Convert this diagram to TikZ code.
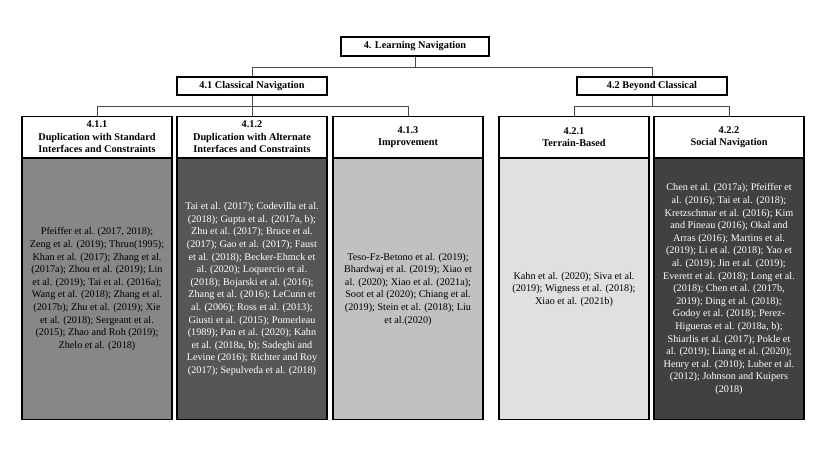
\documentclass[tikz,border=0pt]{standalone}
\usepackage{fontspec}
\setmainfont{Liberation Serif}
\usepackage{tikz}
\usetikzlibrary{calc,positioning}

\definecolor{bodymid}{HTML}{878787}
\definecolor{bodydark}{HTML}{565656}
\definecolor{bodylight}{HTML}{C1C1C1}
\definecolor{bodypale}{HTML}{E0E0E0}
\definecolor{bodydeep}{HTML}{414141}
\definecolor{linkgray}{HTML}{4A4A4A}

\begin{document}
\begin{tikzpicture}[x=1pt,y=-1pt,
    box/.style={draw=black,line width=1.1pt,fill=white,inner sep=0pt,
      font=\bfseries\fontsize{10.3}{12.5}\selectfont,align=center},
    head/.style={box,minimum width=150pt,minimum height=41pt,anchor=north},
    refs/.style={draw=black,line width=1.1pt,inner sep=0pt,anchor=north,
      minimum width=150pt,minimum height=261pt,align=center,
      font=\fontsize{10.2}{12.6}\selectfont},
    link/.style={draw=linkgray,line width=0.8pt}]
  \useasboundingbox (0,0) rectangle (830,467);
  % levels one and two
  \node[box,minimum width=148pt,minimum height=19pt] (nav) at (415,46.5) {4. Learning Navigation};
  \node[box,minimum width=150pt,minimum height=18pt] (cls) at (252,86) {4.1 Classical Navigation};
  \node[box,minimum width=150pt,minimum height=18pt] (bey) at (652,86) {4.2 Beyond Classical};
  % level three headers
  \node[head] (std) at (97,116) {4.1.1\\Duplication with Standard\\Interfaces and Constraints};
  \node[head] (alt) at (252,116) {4.1.2\\Duplication with Alternate\\Interfaces and Constraints};
  \node[head] (imp) at (408,116) {4.1.3\\Improvement};
  \node[head] (ter) at (574,116) {4.2.1\\Terrain-Based};
  \node[head] (soc) at (729,116) {4.2.2\\Social Navigation};
  % reference lists
  \node[refs,fill=bodymid] (stdrefs) at (std.south) {Pfeiffer et al. (2017, 2018);\\
    Zeng et al. (2019); Thrun(1995);\\Khan et al. (2017); Zhang et al.\\
    (2017a); Zhou et al. (2019); Lin\\et al. (2019); Tai et al. (2016a);\\
    Wang et al. (2018); Zhang et al.\\(2017b); Zhu et al. (2019); Xie\\
    et al. (2018); Sergeant et al.\\(2015); Zhao and Roh (2019);\\
    Zhelo et al. (2018)};
  \node[refs,fill=bodydark,text=white] (altrefs) at (alt.south) {Tai et al. (2017); Codevilla et al.\\
    (2018); Gupta et al. (2017a, b);\\Zhu et al. (2017); Bruce et al.\\
    (2017); Gao et al. (2017); Faust\\et al. (2018); Becker-Ehmck et\\
    al. (2020); Loquercio et al.\\(2018); Bojarski et al. (2016);\\
    Zhang et al. (2016); LeCunn et\\al. (2006); Ross et al. (2013);\\
    Giusti et al. (2015); Pomerleau\\(1989); Pan et al. (2020); Kahn\\
    et al. (2018a, b); Sadeghi and\\Levine (2016); Richter and Roy\\
    (2017); Sepulveda et al. (2018)};
  \node[refs,fill=bodylight] (imprefs) at (imp.south) {Teso-Fz-Betono et al. (2019);\\
    Bhardwaj et al. (2019); Xiao et\\al. (2020); Xiao et al. (2021a);\\
    Soot et al (2020); Chiang et al.\\(2019); Stein et al. (2018); Liu\\
    et al.(2020)};
  \node[refs,fill=bodypale] (terrefs) at (ter.south) {Kahn et al. (2020); Siva et al.\\
    (2019); Wigness et al. (2018);\\Xiao et al. (2021b)};
  \node[refs,fill=bodydeep,text=white] (socrefs) at (soc.south) {Chen et al. (2017a); Pfeiffer et\\
    al. (2016); Tai et al. (2018);\\Kretzschmar et al. (2016); Kim\\
    and Pineau (2016); Okal and\\Arras (2016); Martins et al.\\
    (2019); Li et al. (2018); Yao et\\al. (2019); Jin et al. (2019);\\
    Everett et al. (2018); Long et al.\\(2018); Chen et al. (2017b,\\
    2019); Ding et al. (2018);\\Godoy et al. (2018); Perez-\\
    Higueras et al. (2018a, b);\\Shiarlis et al. (2017); Pokle et\\
    al. (2019); Liang et al. (2020);\\Henry et al. (2010); Luber et al.\\
    (2012); Johnson and Kuipers\\(2018)};
  % tree links
  \draw[link] (nav.south) -- ++(0,11) coordinate (navfork) -| (cls.north);
  \draw[link] (navfork) -| (bey.north);
  \draw[link] (cls.south) -- ++(0,11) coordinate (clsfork) -| (std.north);
  \draw[link] (clsfork) -- (alt.north);
  \draw[link] (clsfork) -| (imp.north);
  \draw[link] (bey.south) -- ++(0,11) coordinate (beyfork) -| (ter.north);
  \draw[link] (beyfork) -| (soc.north);
\end{tikzpicture}
\end{document}
